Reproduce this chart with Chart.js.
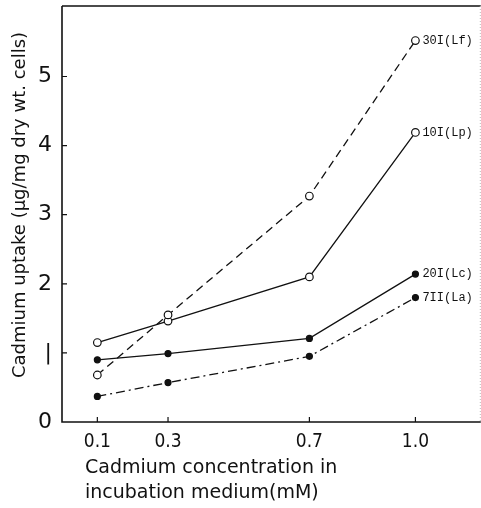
<!DOCTYPE html>
<html>
<head>
<meta charset="utf-8">
<script src="https://cdn.jsdelivr.net/npm/chart.js@4.4.1/dist/chart.umd.min.js"></script>
<style>
	body{margin:0;background:#fff;overflow:hidden;}
	#wrap{width:481px;height:508px;overflow:hidden;}
</style>
</head>
<body>
<div id="wrap"><canvas id="grafica" width="486" height="508"></canvas></div>
<script>
var CONCENTRACIONES=[0.1,0.3,0.7,1.0];
var TICKS_X=[0.1,0.3,0.7,1.0];
var ETIQUETAS_X=["0.1","0.3","0.7","1.0"];
var TICKS_Y=[0,1,2,3,4,5];
var TITULO_X=["Cadmium concentration in","incubation medium(mM)"];
var TITULO_Y="Cadmium uptake (\u00b5g/mg dry wt. cells)";

var SERIES_NOMBRES=["30I(Lf)","10I(Lp)","20I(Lc)","7II(La)"];
var LF_30I=[0.68,1.55,3.27,5.52];
var LP_10I=[1.15,1.46,2.10,4.19];
var LC_20I=[0.90,0.99,1.21,2.14];
var LA_7II=[0.37,0.57,0.95,1.80];

function puntos(valores){
	var data=new Array();
	for(var i=0;i<CONCENTRACIONES.length;i++){
		data.push({x:CONCENTRACIONES[i],y:valores[i]});
	}
	return data;
}

function serie(nombre,valores,dash,abierto){
	return {
		label:nombre,
		data:puntos(valores),
		borderColor:'#111',
		borderWidth:1.3,
		borderDash:dash,
		backgroundColor:abierto?'#fff':'#111',
		pointBackgroundColor:abierto?'#fff':'#111',
		pointBorderColor:'#111',
		pointBorderWidth:1.2,
		pointRadius:abierto?3.8:3,
		tension:0,
		fill:false
	};
}

var DATASETS=[
	serie(SERIES_NOMBRES[0],LF_30I,[8,5],true),
	serie(SERIES_NOMBRES[1],LP_10I,[],true),
	serie(SERIES_NOMBRES[2],LC_20I,[],false),
	serie(SERIES_NOMBRES[3],LA_7II,[9,4,2,4],false)
];

// marco, marcas hacia dentro, titulos y etiquetas de cada curva
var decoracion={
	id:'decoracion',
	afterDraw:function(chart){
		var ctx=chart.ctx;
		var a=chart.chartArea;
		var sx=chart.scales.x, sy=chart.scales.y;
		ctx.save();
		ctx.strokeStyle='#111';
		ctx.lineWidth=1.6;
		ctx.beginPath();
		ctx.moveTo(a.left,a.top);ctx.lineTo(a.right,a.top);
		ctx.moveTo(a.left,a.top);ctx.lineTo(a.left,a.bottom);
		ctx.lineTo(a.right,a.bottom);
		ctx.stroke();
		ctx.strokeStyle='#bbb';
		ctx.lineWidth=1;
		ctx.setLineDash([1,2]);
		ctx.beginPath();
		ctx.moveTo(a.right-0.5,a.top);ctx.lineTo(a.right-0.5,a.bottom);
		ctx.stroke();
		ctx.setLineDash([]);
		ctx.strokeStyle='#111';
		ctx.lineWidth=1.2;
		ctx.beginPath();
		for(var i=0;i<TICKS_X.length;i++){
			var px=sx.getPixelForValue(TICKS_X[i]);
			ctx.moveTo(px,a.bottom);ctx.lineTo(px,a.bottom-5);
		}
		for(var j=1;j<TICKS_Y.length;j++){
			var py=sy.getPixelForValue(TICKS_Y[j]);
			ctx.moveTo(a.left,py);ctx.lineTo(a.left+5,py);
		}
		ctx.stroke();
		ctx.fillStyle='#111';
		ctx.font='12px "Liberation Mono"';
		ctx.textBaseline='middle';
		ctx.textAlign='left';
		for(var k=0;k<chart.data.datasets.length;k++){
			var meta=chart.getDatasetMeta(k);
			var ult=meta.data[meta.data.length-1];
			ctx.fillText(chart.data.datasets[k].label,ult.x+7,ult.y);
		}
		// titulos de los ejes
		ctx.font='19px "DejaVu Sans"';
		ctx.textBaseline='middle';
		ctx.textAlign='left';
		ctx.fillText(TITULO_X[0],85,468);
		ctx.fillText(TITULO_X[1],85,493);
		ctx.translate(20,205);
		ctx.rotate(-Math.PI/2);
		ctx.textAlign='center';
		ctx.font='18px "DejaVu Sans"';
		ctx.fillText(TITULO_Y,0,0);
		ctx.restore();
	}
};

var config={
	type:'line',
	data:{datasets:DATASETS},
	options:{
		responsive:false,
		animation:false,
		layout:{padding:{top:6,right:0,left:0,bottom:0}},
		plugins:{legend:{display:false},tooltip:{enabled:false}},
		scales:{
			x:{
				type:'linear',
				min:0,max:1.185,
				afterBuildTicks:function(scale){
					scale.ticks=TICKS_X.map(function(v){return {value:v};});
				},
				afterFit:function(scale){
					scale.height=86;
					scale.paddingLeft=0;
					scale.paddingRight=0;
				},
				border:{display:false},
				grid:{display:false},
				ticks:{
					color:'#111',
					padding:1,
					maxRotation:0,
					autoSkip:false,
					font:{family:'"DejaVu Sans Condensed", "DejaVu Sans"',size:19},
					callback:function(v){
						var i=TICKS_X.indexOf(v);
						return i>=0?ETIQUETAS_X[i]:'';
					}
				}
			},
			y:{
				type:'linear',
				min:0,max:6.02,
				afterBuildTicks:function(scale){
					scale.ticks=TICKS_Y.map(function(v){return {value:v};});
				},
				afterFit:function(scale){
					scale.width=62;
					scale.paddingTop=0;
					scale.paddingBottom=0;
				},
				border:{display:false},
				grid:{display:false},
				ticks:{
					color:'#111',
					padding:2,
					font:{family:'"DejaVu Sans"',size:22},
					callback:function(v){return v==1?'|':String(v);}
				}
			}
		}
	},
	plugins:[decoracion]
};

new Chart(document.getElementById('grafica').getContext('2d'),config);
</script>
</body>
</html>
